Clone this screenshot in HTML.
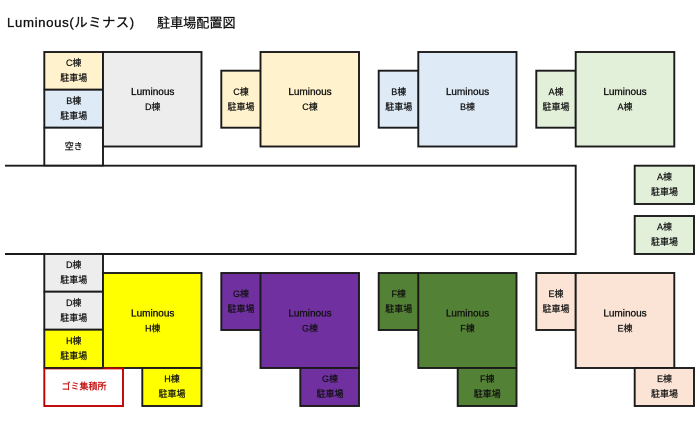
<!DOCTYPE html>
<html lang="ja"><head><meta charset="utf-8"><title>Luminous 駐車場配置図</title>
<style>
html,body{margin:0;padding:0;background:#fff;width:700px;height:434px;overflow:hidden}
svg{display:block;filter:blur(.35px)}
text{font-family:"Liberation Sans","Noto Sans CJK JP",sans-serif;font-size:9px;text-anchor:middle;fill:#111;stroke:#111;stroke-width:.2}
.l{font-size:10px;stroke-width:.32}
.b{stroke:#1a1a1a;stroke-width:1.9}
.w{fill:#fff}.c{fill:#fff2cc}.s{fill:#deeaf6}.a{fill:#e2efd9}.d{fill:#ededed}.h{fill:#ff0}.g{fill:#7030a0}.f{fill:#538135}.e{fill:#fbe4d5}
</style></head><body>
<svg width="700" height="434" viewBox="0 0 700 434" xmlns="http://www.w3.org/2000/svg">
<rect width="700" height="434" fill="#fff"/>
<text x="7" y="27" style="text-anchor:start;font-size:13.2px;letter-spacing:.65px;stroke-width:.3">Luminous(ルミナス)</text>
<text x="157" y="27.5" style="text-anchor:start;font-size:13.1px;stroke-width:.25">駐車場配置図</text>

<g class="b">
<rect class="c" x="44.3" y="52" width="58.7" height="37.7"/>
<rect class="s" x="44.3" y="89.7" width="58.7" height="38"/>
<rect class="w" x="44.3" y="127.7" width="58.7" height="38"/>
<rect class="d" x="103" y="52" width="98.5" height="94.5"/>
<rect class="c" x="221.3" y="70.7" width="39.2" height="57"/>
<rect class="c" x="260.5" y="52" width="98.5" height="94.5"/>
<rect class="s" x="378.7" y="70.7" width="39.6" height="57"/>
<rect class="s" x="418.3" y="52" width="98.2" height="94.5"/>
<rect class="a" x="536.3" y="70.7" width="39.4" height="57"/>
<rect class="a" x="575.7" y="52" width="98.6" height="94.5"/>
<path d="M5 165.7H575.7V254H5" fill="none"/>
<rect class="a" x="634.7" y="165.7" width="59.3" height="38.3"/>
<rect class="a" x="634.7" y="216" width="59.3" height="38"/>

<rect class="d" x="44.3" y="254" width="58.7" height="37.7"/>
<rect class="d" x="44.3" y="291.7" width="58.7" height="38"/>
<rect class="h" x="44.3" y="329.7" width="58.7" height="38.3"/>
<rect class="h" x="103" y="273" width="98.5" height="95"/>
<rect class="h" x="142.3" y="368" width="59.2" height="38"/>
<rect class="g" x="221.3" y="273" width="39.2" height="57"/>
<rect class="g" x="260.5" y="273" width="98.5" height="95"/>
<rect class="g" x="300.3" y="368" width="58.7" height="38"/>
<rect class="f" x="378.7" y="273" width="39.6" height="57"/>
<rect class="f" x="418.3" y="273" width="98.2" height="95"/>
<rect class="f" x="457.7" y="368" width="58.8" height="38"/>
<rect class="e" x="536.3" y="273" width="39.4" height="57"/>
<rect class="e" x="575.7" y="273" width="98.6" height="95"/>
<rect class="e" x="634.7" y="368" width="59.3" height="38"/>
</g>
<rect x="44.3" y="368.4" width="78.7" height="37.6" fill="#fff" stroke="#c00000" stroke-width="1.9"/>
<path d="M44.3 368H103" stroke="#1a1a1a" stroke-width="1.6"/>

<text x="73.7" y="66">C棟</text><text x="73.7" y="81">駐車場</text>
<text x="73.7" y="104">B棟</text><text x="73.7" y="119">駐車場</text>
<text x="73.7" y="149.5">空き</text>
<text x="152.7" y="95" class="l">Luminous</text><text x="152.7" y="110">D棟</text>
<text x="241" y="95">C棟</text><text x="241" y="110">駐車場</text>
<text x="310" y="95" class="l">Luminous</text><text x="310" y="110">C棟</text>
<text x="398.7" y="95">B棟</text><text x="398.7" y="110">駐車場</text>
<text x="467.5" y="95" class="l">Luminous</text><text x="467.5" y="110">B棟</text>
<text x="556" y="95">A棟</text><text x="556" y="110">駐車場</text>
<text x="625" y="95" class="l">Luminous</text><text x="625" y="110">A棟</text>
<text x="664.5" y="180">A棟</text><text x="664.5" y="195">駐車場</text>
<text x="664.5" y="230">A棟</text><text x="664.5" y="245">駐車場</text>

<text x="73.7" y="268">D棟</text><text x="73.7" y="283">駐車場</text>
<text x="73.7" y="306">D棟</text><text x="73.7" y="321">駐車場</text>
<text x="73.7" y="344">H棟</text><text x="73.7" y="359">駐車場</text>
<text x="152.7" y="316.5" class="l">Luminous</text><text x="152.7" y="331.5">H棟</text>
<text x="84" y="389.5" style="fill:#c00000;stroke:#c00000">ゴミ集積所</text>
<text x="172" y="382">H棟</text><text x="172" y="397">駐車場</text>
<text x="241" y="297">G棟</text><text x="241" y="312">駐車場</text>
<text x="310" y="316.5" class="l">Luminous</text><text x="310" y="331.5">G棟</text>
<text x="330" y="382">G棟</text><text x="330" y="397">駐車場</text>
<text x="398.7" y="297">F棟</text><text x="398.7" y="312">駐車場</text>
<text x="467.5" y="316.5" class="l">Luminous</text><text x="467.5" y="331.5">F棟</text>
<text x="487.3" y="382">F棟</text><text x="487.3" y="397">駐車場</text>
<text x="556" y="297">E棟</text><text x="556" y="312">駐車場</text>
<text x="625" y="316.5" class="l">Luminous</text><text x="625" y="331.5">E棟</text>
<text x="664.5" y="382">E棟</text><text x="664.5" y="397">駐車場</text>
</svg>
</body></html>
